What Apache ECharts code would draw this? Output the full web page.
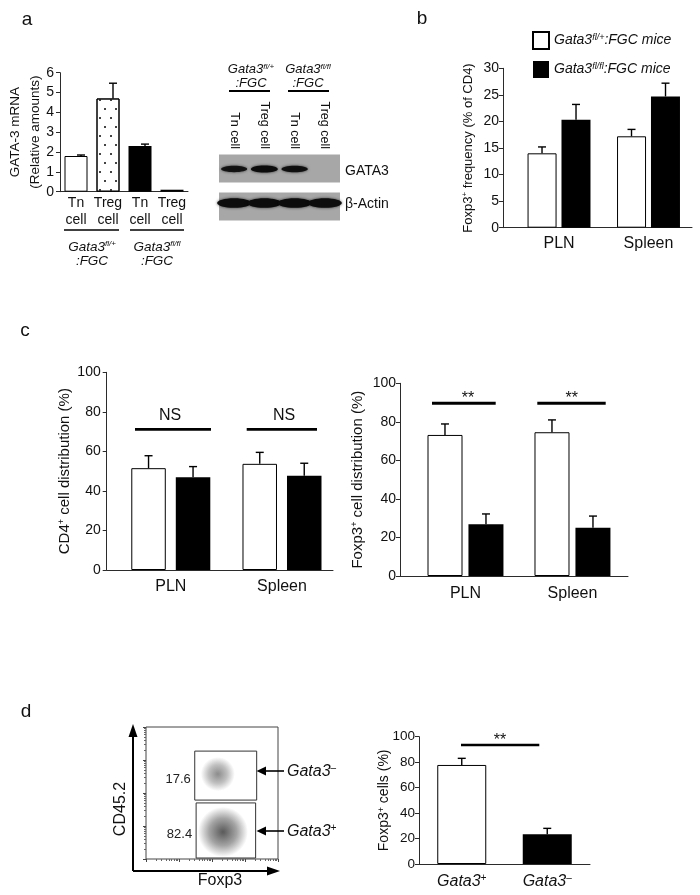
<!DOCTYPE html>
<html>
<head>
<meta charset="utf-8">
<title>Gata3 Treg figure</title>
<script src="https://cdn.jsdelivr.net/npm/echarts@6.0.0/dist/echarts.min.js"></script>
<style>
  html, body { margin: 0; padding: 0; background: #fff; }
  #chart { width: 700px; height: 895px; }
</style>
</head>
<body>
<div id="chart"></div>
<script>
// ---- values ----
// a: GATA-3 mRNA (relative amounts)
const mrnaCats = ['Tn\ncell', 'Treg\ncell', 'Tn\ncell', 'Treg\ncell'];
const mrnaVals = [1.8, 4.7, 2.3, 0.1];
const mrnaErr = [0.05, 0.77, 0.1, 0];
// a: western blot, band strength per lane (0..1)
const blotLanes = ['Tn cell', 'Treg cell', 'Tn cell', 'Treg cell'];
const blotRows = ['GATA3', 'β-Actin'];
const gata3Band = [0.75, 1, 0.85, 0];
const actinBand = [1, 1, 1, 0.95];
// b: Foxp3+ frequency (% of CD4)
const tissues = ['PLN', 'Spleen'];
const freqHet = [14.0, 17.2];
const freqHetErr = [1.2, 1.3];
const freqKo = [20.3, 24.7];
const freqKoErr = [2.9, 2.5];
// c: CD4+ and Foxp3+ cell distribution (%)
const cd4Het = [51.5, 53.7];
const cd4HetErr = [6.3, 5.8];
const cd4Ko = [46.9, 47.7];
const cd4KoErr = [5.4, 6.3];
const foxHet = [73.2, 74.6];
const foxHetErr = [5.7, 6.4];
const foxKo = [26.8, 25.1];
const foxKoErr = [5.4, 6.0];
// d: flow plot (Foxp3 on x, CD45.2 on y, log scale)
const gateFoxp3 = [[30, 2260], [33, 2100]];
const gateCd45 = [[61, 1860], [1.07, 50]];
const gatePct = [17.6, 82.4];
const cloudFoxp3 = [150, 215];
const cloudCd45 = [375, 6.6];
// d: Foxp3+ cells (%)
const dCats = ['Gata3+', 'Gata3–'];
const dVals = [77.8, 23.3];
const dErr = [5.2, 4.7];

const FONT = '"Liberation Sans", Arial, Helvetica, sans-serif';
const INK = '#111';
const AXIS = '#2b2b2b';

// rich styles: n = normal run, s = superscript
function sup(size, italic, lh) {
  const st = italic ? 'italic' : 'normal';
  return {
    n: { fontFamily: FONT, fontSize: size, fontStyle: st, color: INK, lineHeight: lh || size + 1 },
    s: { fontFamily: FONT, fontSize: Math.round(size * 0.62), fontStyle: st, color: INK,
         verticalAlign: 'top', lineHeight: Math.round(size * 0.62) }
  };
}

const whiteBar = { color: '#fff', borderColor: '#000', borderWidth: 1 };
const blackBar = { color: '#000' };
const dottedBar = {
  color: '#fff', borderColor: '#000', borderWidth: 1,
  decal: { symbol: 'rect', symbolSize: 1, color: '#444',
           dashArrayX: [[1.5, 8.5], [0, 5, 1.5, 3.5]], dashArrayY: [1.5, 6.5], rotation: 0 }
};
const mrnaStyles = [whiteBar, dottedBar, blackBar, blackBar];

const grids = [
  { left: 60, top: 72.7, width: 128, height: 119 },         // a bars
  { left: 503, top: 68.3, width: 189, height: 159.4 },      // b
  { left: 106.7, top: 372.3, width: 226.3, height: 197.7 }, // c left
  { left: 400, top: 383.3, width: 228, height: 192.7 },     // c right
  { left: 419, top: 736.7, width: 171, height: 127.3 },     // d bars
  { left: 219, top: 155, width: 121, height: 66 },          // blot
  { left: 146, top: 727, width: 132, height: 132, show: true, borderColor: '#444', borderWidth: 1 } // flow
].map(g => Object.assign({ containLabel: false, outerBoundsMode: 'none' }, g));

function yAxisFor(gi, max, interval, name, nameRich, nameGap, margin, labelSize) {
  return {
    type: 'value', gridIndex: gi, min: 0, max, interval,
    name, nameLocation: 'middle', nameGap, nameRotate: 90, nameMoveOverlap: false,
    nameTextStyle: { rich: nameRich },
    axisLine: { show: true, onZero: false, lineStyle: { color: AXIS, width: 1 } },
    axisTick: { show: true, inside: false, length: 4, lineStyle: { color: AXIS } },
    axisLabel: { fontFamily: FONT, fontSize: labelSize || 14, color: INK, margin },
    splitLine: { show: false }
  };
}

// value axis so each tissue pair sits where it does in the figure
function tissueAxis(gi, min, max, margin) {
  return {
    type: 'value', gridIndex: gi, min, max,
    axisLine: { show: true, onZero: false, lineStyle: { color: AXIS, width: 1 } },
    axisTick: { show: false }, splitLine: { show: false },
    axisLabel: { customValues: [1, 2], formatter: v => tissues[Math.round(v) - 1] || '',
                 fontFamily: FONT, fontSize: 16, color: INK, margin, hideOverlap: false }
  };
}

function errBars(gi, vals, errs, dx, xOf) {
  return {
    type: 'custom', xAxisIndex: gi, yAxisIndex: gi, z: 3,
    data: vals.map((v, i) => [xOf(i), v, errs[i]]),
    renderItem(params, api) {
      const e = api.value(2);
      if (!e) return { type: 'group', children: [] };
      const base = api.coord([api.value(0), api.value(1)]);
      const top = api.coord([api.value(0), api.value(1) + e]);
      const x = base[0] + dx;
      const st = { stroke: '#000', lineWidth: 1.4 };
      return { type: 'group', children: [
        { type: 'line', shape: { x1: x, y1: base[1], x2: x, y2: top[1] }, style: st },
        { type: 'line', shape: { x1: x - 4, y1: top[1], x2: x + 4, y2: top[1] }, style: st }
      ] };
    }
  };
}

const pos = i => i + 1;
const idx = i => i;

function pairBars(gi, het, ko, width, gap, nameHet, nameKo) {
  return [
    { type: 'bar', name: nameHet, xAxisIndex: gi, yAxisIndex: gi, barWidth: width, barGap: gap,
      itemStyle: whiteBar, data: het.map((v, i) => [pos(i), v]) },
    { type: 'bar', name: nameKo, xAxisIndex: gi, yAxisIndex: gi, barWidth: width, barGap: gap,
      itemStyle: blackBar, data: ko.map((v, i) => [pos(i), v]) }
  ];
}

// ---- graphic helpers for letters, brackets, arrows ----
const txt = (x, y, text, style, rot) => ({
  type: 'text', x, y, rotation: rot || 0,
  style: Object.assign({ text, fontFamily: FONT, fontSize: 14, fill: INK, align: 'center', verticalAlign: 'middle' }, style || {})
});
const ln = (x1, y1, x2, y2, w) => ({ type: 'line', shape: { x1, y1, x2, y2 }, style: { stroke: '#000', lineWidth: w } });
const tri = pts => ({ type: 'polygon', shape: { points: pts }, style: { fill: '#000' } });
const richTxt = (x, y, text, size, align) => txt(x, y, text, { rich: sup(size, true), align: align || 'center' });

const graphics = [
  txt(27, 20, 'a', { fontSize: 19 }),
  txt(422, 19, 'b', { fontSize: 19 }),
  txt(25, 331, 'c', { fontSize: 19 }),
  txt(26, 712, 'd', { fontSize: 19 }),
  // a: genotype groups under the bars
  ln(64, 230, 119, 230, 1.6), ln(130, 230, 184, 230, 1.6),
  richTxt(92, 254, '{n|Gata3}{s|fl/+}\n{n|:FGC}', 13.5),
  richTxt(157, 254, '{n|Gata3}{s|fl/fl}\n{n|:FGC}', 13.5),
  // a: blot headers
  richTxt(251, 76.5, '{n|Gata3}{s|fl/+}\n{n|:FGC}', 13),
  richTxt(308, 76.5, '{n|Gata3}{s|fl/fl}\n{n|:FGC}', 13),
  ln(229, 91, 270, 91, 2), ln(288, 91, 329, 91, 2),
  // c: significance
  ln(135, 429.3, 211, 429.3, 2.8), ln(246.7, 429.3, 317, 429.3, 2.8),
  txt(170, 416, 'NS', { fontSize: 16 }), txt(284, 416, 'NS', { fontSize: 16 }),
  ln(432, 403.3, 495.7, 403.3, 3), ln(537.3, 403.3, 605.7, 403.3, 3),
  txt(468, 399, '**', { fontSize: 16 }), txt(571.7, 399, '**', { fontSize: 16 }),
  // d: significance
  ln(461, 745, 539.3, 745, 2.5), txt(500, 741, '**', { fontSize: 16 }),
  // d: flow plot axes
  ln(133, 871, 133, 735, 2), tri([[133, 724], [128.5, 737], [137.5, 737]]),
  ln(133, 871, 268, 871, 2), tri([[280, 871], [267, 866.5], [267, 875.5]]),
  txt(121, 809, 'CD45.2', { fontSize: 16 }, Math.PI / 2),
  txt(220, 881, 'Foxp3', { fontSize: 16 }),
  // d: gate arrows
  ln(284, 771, 264, 771, 1.6), tri([[256.5, 771], [266, 766.5], [266, 775.5]]),
  ln(284, 831, 264, 831, 1.6), tri([[256.5, 831], [266, 826.5], [266, 835.5]]),
  richTxt(287, 772, '{n|Gata3}{s|–}', 16, 'left'),
  richTxt(287, 832, '{n|Gata3}{s|+}', 16, 'left')
];

const logAxis = gi => ({
  type: 'log', gridIndex: gi, min: 1, max: 10000, logBase: 10,
  axisLine: { show: false }, axisLabel: { show: false }, splitLine: { show: false },
  axisTick: { show: true, inside: false, length: 3, lineStyle: { color: '#444' } },
  minorTick: { show: true, splitNumber: 9, length: 2, lineStyle: { color: '#666' } }
});

const option = {
  backgroundColor: '#fff',
  animation: false,
  grid: grids,
  legend: {
    data: ['het', 'ko'], left: 527, top: 26, orient: 'vertical', icon: 'rect',
    itemWidth: 16, itemHeight: 17, itemGap: 11, selectedMode: false,
    formatter: n => n === 'het' ? '{n|Gata3}{s|fl/+}{n|:FGC mice}' : '{n|Gata3}{s|fl/fl}{n|:FGC mice}',
    textStyle: { rich: sup(14, true) }
  },
  xAxis: [
    { type: 'category', gridIndex: 0, data: mrnaCats,
      axisLine: { show: true, onZero: false, lineStyle: { color: AXIS, width: 1 } },
      axisTick: { show: false },
      axisLabel: { interval: 0, fontFamily: FONT, fontSize: 14, lineHeight: 17, color: INK, margin: 3 } },
    tissueAxis(1, 0.374, 2.486, 8),
    tissueAxis(2, 0.4236, 2.4587, 9),
    tissueAxis(3, 0.388, 2.519, 10),
    { type: 'category', gridIndex: 4, data: dCats,
      axisLine: { show: true, onZero: false, lineStyle: { color: AXIS, width: 1 } },
      axisTick: { show: false },
      axisLabel: { interval: 0, margin: 9, formatter: v => '{n|' + v.slice(0, -1) + '}{s|' + v.slice(-1) + '}',
                   rich: sup(16, true) } },
    { type: 'category', gridIndex: 5, data: blotLanes, position: 'top',
      axisLine: { show: false }, axisTick: { show: false },
      axisLabel: { interval: 0, rotate: 90, margin: 6, fontFamily: FONT, fontSize: 12.5, color: INK, hideOverlap: false } },
    logAxis(6)
  ],
  yAxis: [
    yAxisFor(0, 6, 1, '{n|GATA-3 mRNA}\n{n|(Relative amounts)}', sup(13.5, false, 20), 15, 6),
    yAxisFor(1, 30, 5, '{n|Foxp3}{s|+}{n| frequency (% of CD4)}', sup(13, false), 28, 4),
    yAxisFor(2, 100, 20, '{n|CD4}{s|+}{n| cell distribution (%)}', sup(15, false), 34, 6),
    yAxisFor(3, 100, 20, '{n|Foxp3}{s|+}{n| cell distribution (%)}', sup(15, false), 34, 4),
    yAxisFor(4, 100, 20, '{n|Foxp3}{s|+}{n| cells (%)}', sup(14, false), 27, 4, 13.5),
    { type: 'category', gridIndex: 5, data: blotRows, inverse: true, position: 'right',
      axisLine: { show: false }, axisTick: { show: false },
      axisLabel: { margin: 5, fontFamily: FONT, fontSize: 14, color: INK } },
    logAxis(6)
  ],
  series: [
    // a: mRNA bars
    { type: 'bar', xAxisIndex: 0, yAxisIndex: 0, barWidth: 23,
      data: mrnaVals.map((v, i) => ({ value: v, itemStyle: mrnaStyles[i] })) },
    errBars(0, mrnaVals, mrnaErr, 5, idx),
    // a: blot background strips
    { type: 'custom', xAxisIndex: 5, yAxisIndex: 5, z: 1,
      data: blotRows.map((r, i) => [0, i]),
      renderItem(params, api) {
        const row = api.value(1);
        const c = api.coord([0, row]);
        const cs = params.coordSys;
        const cy = c[1] + (row === 0 ? -3 : 2);
        return { type: 'rect', shape: { x: cs.x, y: cy - 14, width: cs.width, height: 28 },
                 style: { fill: '#a7a7a7' } };
      } },
    // a: blot bands
    { type: 'custom', xAxisIndex: 5, yAxisIndex: 5, z: 2,
      data: [].concat(gata3Band.map((v, i) => [i, 0, v]), actinBand.map((v, i) => [i, 1, v])),
      renderItem(params, api) {
        const row = api.value(1), v = api.value(2);
        if (!v) return { type: 'group', children: [] };
        const c = api.coord([api.value(0), row]);
        const w = api.size([1, 1])[0];
        const gata = row === 0;
        return { type: 'ellipse',
          shape: { cx: c[0], cy: gata ? c[1] - 2.5 : c[1] - 1.5,
                   rx: gata ? w * 0.38 + 2 * v : w * 0.56, ry: gata ? 1.8 + 1.8 * v : 4.8 },
          style: { fill: 'rgba(12,12,12,' + (0.6 + 0.4 * v) + ')', shadowBlur: 3, shadowColor: 'rgba(0,0,0,0.7)' } };
      } },
    // b
    ...pairBars(1, freqHet, freqKo, 29, '17%', 'het', 'ko'),
    errBars(1, freqHet, freqHetErr, -17, pos), errBars(1, freqKo, freqKoErr, 17, pos),
    // c left
    ...pairBars(2, cd4Het, cd4Ko, 34.5, '29%', 'het', 'ko'),
    errBars(2, cd4Het, cd4HetErr, -22.25, pos), errBars(2, cd4Ko, cd4KoErr, 22.25, pos),
    // c right
    ...pairBars(3, foxHet, foxKo, 35, '17%', 'het', 'ko'),
    errBars(3, foxHet, foxHetErr, -20.5, pos), errBars(3, foxKo, foxKoErr, 20.5, pos),
    // d bars
    { type: 'bar', xAxisIndex: 4, yAxisIndex: 4, barWidth: 49,
      data: dVals.map((v, i) => ({ value: v, itemStyle: i === 0 ? whiteBar : blackBar })) },
    errBars(4, dVals, dErr, 0, idx),
    // d: flow clouds
    { type: 'custom', xAxisIndex: 6, yAxisIndex: 6, clip: true, z: 2,
      data: cloudFoxp3.map((x, i) => [x, cloudCd45[i]]),
      renderItem(params, api) {
        const c = api.coord([api.value(0), api.value(1)]);
        const big = params.dataIndex === 1;
        const a = big ? 0.72 : 0.5;
        return { type: 'ellipse',
          shape: { cx: c[0], cy: c[1], rx: big ? 25 : 19, ry: big ? 27 : 17 },
          style: { fill: { type: 'radial', x: 0.5, y: 0.5, r: 0.5, colorStops: [
            { offset: 0, color: 'rgba(25,25,25,' + a + ')' },
            { offset: 0.55, color: 'rgba(25,25,25,' + (a * 0.55) + ')' },
            { offset: 1, color: 'rgba(25,25,25,0)' } ] } } };
      } },
    // d: gates with percentages
    { type: 'custom', xAxisIndex: 6, yAxisIndex: 6, z: 3,
      data: gatePct.map((p, i) => [gateFoxp3[i][0], gateCd45[i][0], gateFoxp3[i][1], gateCd45[i][1], p]),
      renderItem(params, api) {
        const p1 = api.coord([api.value(0), api.value(1)]);
        const p2 = api.coord([api.value(2), api.value(3)]);
        const x = Math.min(p1[0], p2[0]), y = Math.min(p1[1], p2[1]);
        const w = Math.abs(p2[0] - p1[0]), h = Math.abs(p2[1] - p1[1]);
        return { type: 'group', children: [
          { type: 'rect', shape: { x, y, width: w, height: h }, style: { fill: 'none', stroke: '#333', lineWidth: 1 } },
          { type: 'text', x: x - 4, y: y + h / 2 + 4,
            style: { text: api.value(4).toFixed(1), fontFamily: FONT, fontSize: 13, fill: '#222', align: 'right', verticalAlign: 'middle' } }
        ] };
      } }
  ],
  graphic: { elements: graphics }
};

const chart = echarts.init(document.getElementById('chart'));
chart.setOption(option);
</script>
</body>
</html>
